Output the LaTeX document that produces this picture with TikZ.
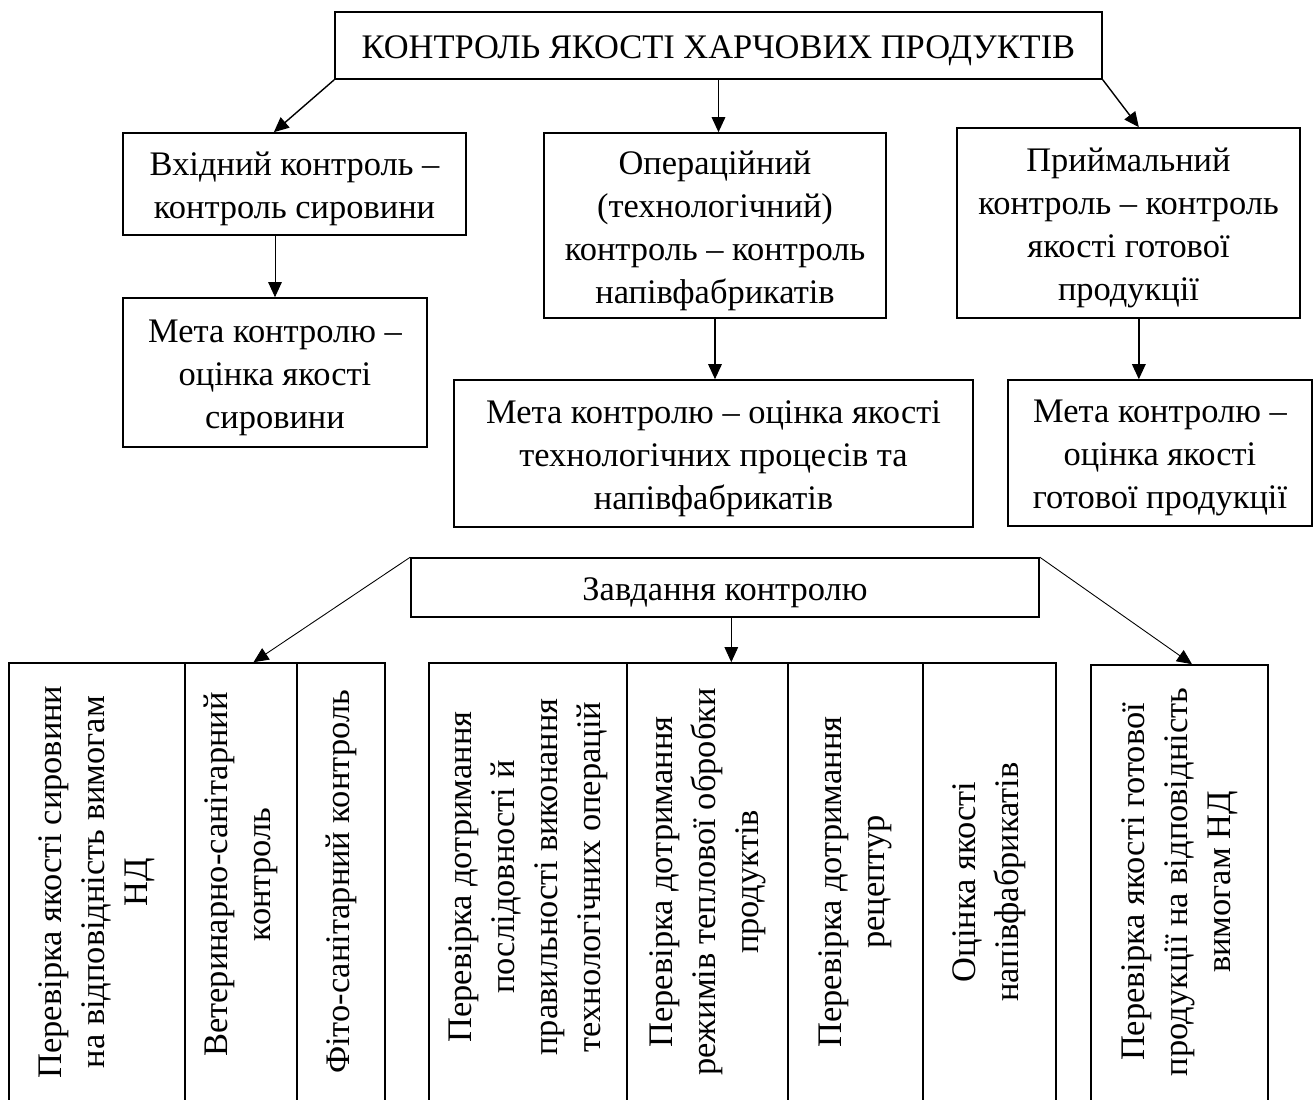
\documentclass[tikz,border=0pt]{standalone}
\usepackage{fontspec}
\setmainfont{Liberation Serif}
\usetikzlibrary{arrows.meta,calc}
\newcommand{\diafont}{\fontsize{19.6}{24.5}\selectfont}
% \bx{name}{x1}{y1}{x2}{y2}{text}  (pixel coordinates)
\newcommand{\bx}[6]{\node[box, minimum width={(#4-#2)*0.02cm}, minimum height={(#5-#3)*0.02cm}]
  (#1) at ({(#2+#4)/2},{(#3+#5)/2}) {};
  \node[btext] (#1t) at (#1.center) {#6};}
\begin{document}
\begin{tikzpicture}[x=0.02cm,y=-0.02cm,
  box/.style={draw, line width=0.9pt, inner sep=0pt},
  btext/.style={align=center, inner sep=0pt, font=\diafont, yshift=-0.1cm},
  vtext/.style={rotate=90, align=center, inner sep=0pt, font=\diafont},
  arrA/.style={-{Triangle[length=3mm,width=2.7mm]}, line width=0.8pt},
  arrB/.style={-{Triangle[length=3mm,width=2.7mm]}, line width=0.5pt}]
\useasboundingbox (0,0) rectangle (1315,1099);
\fill[white] (0,0) rectangle (1315,1099);

% upper part
\bx{top}{335}{12}{1102}{79}{КОНТРОЛЬ ЯКОСТІ ХАРЧОВИХ ПРОДУКТІВ}
\bx{vkh}{123}{133}{466}{235}{Вхідний контроль –\\контроль сировини}
\bx{oper}{544}{133}{886}{318}{Операційний\\(технологічний)\\контроль – контроль\\напівфабрикатів}
\bx{pryim}{957}{128}{1300}{318}{Приймальний\\контроль – контроль\\якості готової\\продукції}
\bx{meta1}{123}{298}{427}{447}{Мета контролю –\\оцінка якості\\сировини}
\bx{meta2}{454}{380}{973}{527}{Мета контролю – оцінка якості\\технологічних процесів та\\напівфабрикатів}
\bx{meta3}{1008}{380}{1312}{526}{Мета контролю –\\оцінка якості\\готової продукції}

\draw[arrA] (top.south west) -- ($(vkh.north west)!0.44!(vkh.north east)$);
\draw[arrA] (top.south) -- (top.south |- oper.north);
\draw[arrA] (top.south east) -- ($(pryim.north west)!0.53!(pryim.north east)$);
\draw[arrB] (meta1.north |- vkh.south) -- (meta1.north);
\draw[arrA] (oper.south) -- (oper.south |- meta2.north);
\coordinate (pd) at ($(pryim.south west)!0.53!(pryim.south east)$);
\draw[arrA] (pd) -- (pd |- meta3.north);

% lower part
\bx{zav}{411}{558}{1039}{617}{Завдання контролю}

\bx{c1}{9}{663}{185}{1115}{}
\bx{c2}{185}{663}{297}{1115}{}
\bx{c3}{297}{663}{385}{1115}{}
\bx{d1}{429}{663}{627}{1115}{}
\bx{d2}{627}{663}{788}{1115}{}
\bx{d3}{788}{663}{923}{1115}{}
\bx{d4}{923}{663}{1056}{1115}{}
\bx{e1}{1091}{665}{1268}{1115}{}

\coordinate (mid) at (0,882);
\node[vtext] (tc1) at (c1.center |- mid) {Перевірка якості сировини\\на відповідність вимогам\\НД};
\node[vtext, xshift=0.15cm] (tc2) at (c2.center |- mid) {Ветеринарно-санітарний\\контроль};
\node[vtext] (tc3) at (c3.center |- mid) {Фіто-санітарний контроль};
\node[vtext, xshift=0.1cm] (td1) at (d1.center |- mid) {Перевірка дотримання\\послідовності й\\правильності виконання\\технологічних операцій};
\node[vtext] (td2) at (d2.center |- mid) {Перевірка дотримання\\режимів теплової обробки\\продуктів};
\node[vtext] (td3) at (d3.center |- mid) {Перевірка дотримання\\рецептур};
\node[vtext] (td4) at (d4.center |- mid) {Оцінка якості\\напівфабрикатів};
\node[vtext] (te1) at (e1.center |- mid) {Перевірка якості готової\\продукції на відповідність\\вимогам НД};

\draw[arrB] (zav.north west) -- ($(c2.north west)!0.61!(c2.north east)$);
\draw[arrB] ($(zav.south west)!0.51!(zav.south east)$) coordinate (zs) -- (zs |- d2.north);
\draw[arrB] (zav.north east) -- ($(e1.north west)!0.57!(e1.north east)$);
\end{tikzpicture}
\end{document}
